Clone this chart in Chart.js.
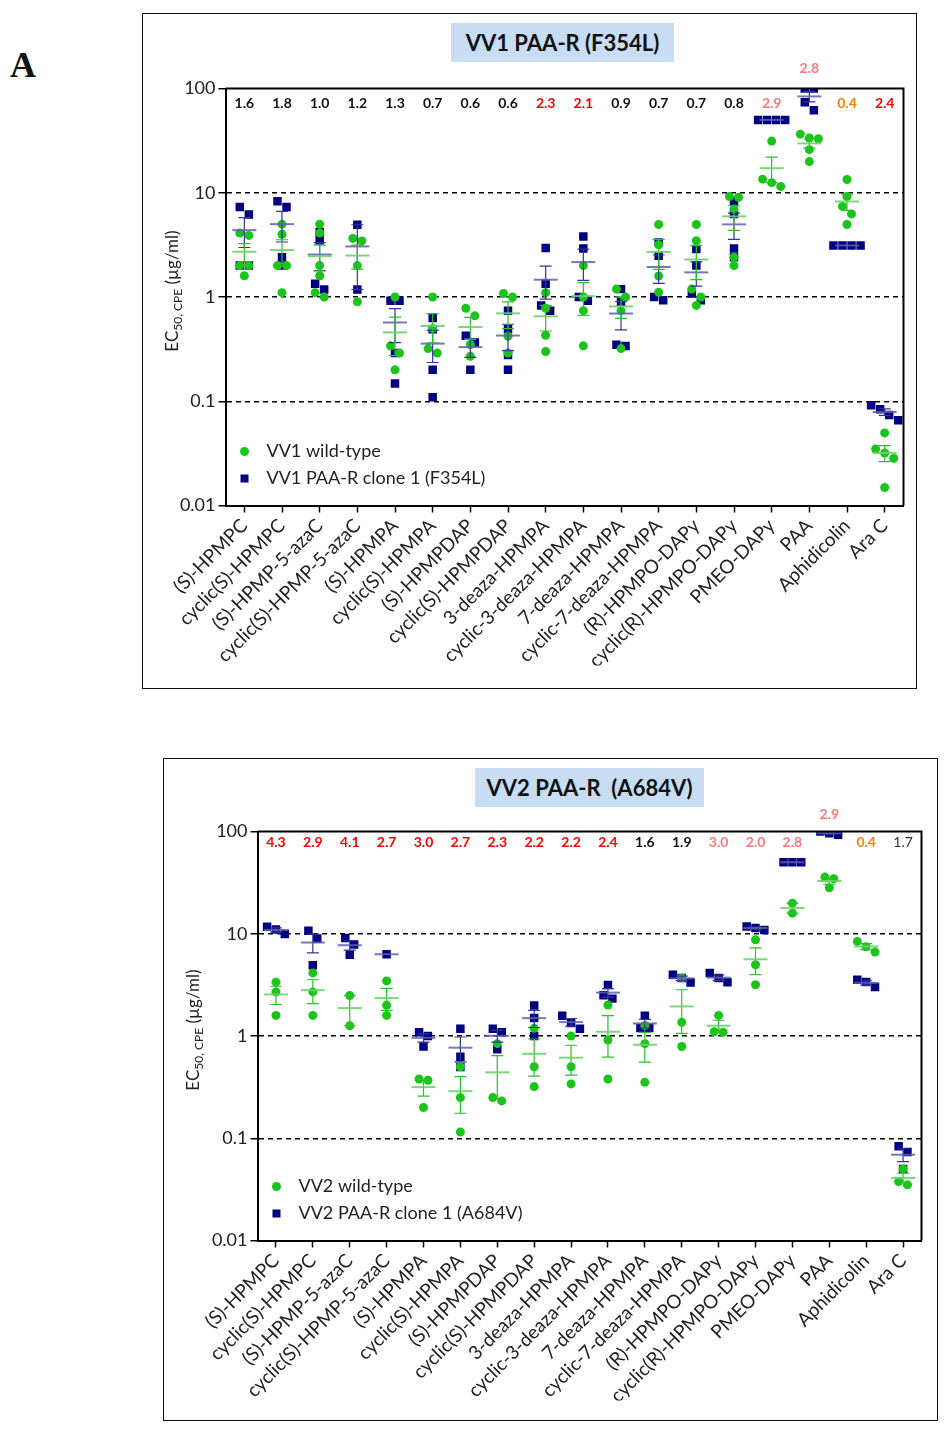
<!DOCTYPE html>
<html>
<head>
<meta charset="utf-8">
<script src="https://cdn.jsdelivr.net/npm/chart.js@4.4.1/dist/chart.umd.min.js"></script>
<style>
    body { margin: 0; background: #fff; width: 950px; height: 1430px; position: relative; font-family: Lato, sans-serif; }
    .letter { position: absolute; left: 10px; top: 44px; font: bold 36px "Liberation Serif", "DejaVu Serif", serif; color: #111; }
    .panel { position: absolute; box-sizing: border-box; border: 1.5px solid #111; }
    .panel canvas { position: absolute; left: 0; top: 0; }
    .title { position: absolute; background: #c8ddf4; font: bold 22px Lato, sans-serif; color: #111;
             text-align: center; white-space: pre; height: 39px; line-height: 39px; }
</style>
</head>
<body>
<div class="letter">A</div>
<div class="panel" style="left:142px; top:13px; width:775px; height:676px;">
    <canvas id="chartVV1" width="772" height="673"></canvas>
    <div class="title" style="left:308px; top:9px; width:223px;">VV1 PAA-R (F354L)</div>
</div>
<div class="panel" style="left:163px; top:758px; width:775px; height:663px;">
    <canvas id="chartVV2" width="772" height="660"></canvas>
    <div class="title" style="left:311px; top:9px; width:229px;">VV2 PAA-R  (A684V)</div>
</div>
<script>
const categories = [
    '(S)-HPMPC', 'cyclic(S)-HPMPC', '(S)-HPMP-5-azaC', 'cyclic(S)-HPMP-5-azaC',
    '(S)-HPMPA', 'cyclic(S)-HPMPA', '(S)-HPMPDAP', 'cyclic(S)-HPMPDAP',
    '3-deaza-HPMPA', 'cyclic-3-deaza-HPMPA', '7-deaza-HPMPA', 'cyclic-7-deaza-HPMPA',
    '(R)-HPMPO-DAPy', 'cyclic(R)-HPMPO-DAPy', 'PMEO-DAPy', 'PAA', 'Aphidicolin', 'Ara C'
];

// EC50 values (µg/ml), one list per compound
const vv1WildType = [
    [4.1, 3.9, 2.0, 2.0, 1.6],
    [5.0, 4.0, 2.0, 2.0, 1.1],
    [5.0, 4.1, 2.0, 1.6, 1.1, 1.0],
    [3.65, 3.45, 2.0, 0.9],
    [1.0, 0.34, 0.29, 0.2],
    [1.0, 0.5, 0.32, 0.29],
    [0.78, 0.66, 0.35, 0.27],
    [1.08, 1.0, 0.42, 0.29],
    [1.1, 0.78, 0.43, 0.3],
    [2.0, 1.0, 0.74, 0.34],
    [1.19, 1.0, 0.74, 0.32],
    [4.96, 3.17, 1.59, 1.11],
    [4.96, 3.46, 1.19, 1.0, 0.83],
    [9.2, 9.06, 7.0, 2.41, 2.0],
    [31.3, 13.5, 12.5, 11.5],
    [36.5, 33.5, 33, 25.9, 19.9],
    [13.4, 9.2, 7.4, 6.27, 4.96],
    [0.0497, 0.0348, 0.0319, 0.0283, 0.0149]
];
const vv1Mutant = [
    [7.3, 6.2, 2.0, 2.0],
    [8.3, 7.3, 2.4, 2.0],
    [4.2, 3.5, 1.34, 1.18],
    [4.93, 1.18],
    [0.92, 0.92, 0.29, 0.148],
    [0.63, 0.49, 0.2, 0.109],
    [0.425, 0.367, 0.2],
    [0.74, 0.49, 0.277, 0.2],
    [2.95, 1.34, 0.83, 0.74],
    [3.81, 2.92, 1.0, 0.92],
    [1.19, 0.9, 0.348, 0.338],
    [3.34, 2.49, 1.0, 0.93],
    [2.88, 2.0, 1.08, 0.93],
    [8.3, 6.27, 2.92, 2.4],
    [50, 50, 50, 50],
    [100, 100, 74, 62],
    [3.12, 3.12, 3.12, 3.12],
    [0.0916, 0.0838, 0.074, 0.0657]
];
const vv1Fold = ['1.6', '1.8', '1.0', '1.2', '1.3', '0.7', '0.6', '0.6', '2.3', '2.1', '0.9', '0.7', '0.7', '0.8', '2.9', '2.8', '0.4', '2.4'];

const vv2WildType = [
    [3.36, 2.7, 1.59],
    [4.14, 2.7, 1.59],
    [2.49, 1.26],
    [3.46, 2.0, 1.59],
    [0.38, 0.369, 0.2],
    [0.5, 0.25, 0.115],
    [0.842, 0.25, 0.232],
    [1.19, 0.5, 0.32],
    [1.0, 0.5, 0.34],
    [2.01, 0.914, 0.38],
    [1.27, 0.842, 0.352],
    [3.69, 1.36, 0.79],
    [1.59, 1.1, 1.09],
    [8.74, 4.98, 3.17],
    [19.9, 15.9],
    [35.8, 34.5, 28.2],
    [8.41, 7.46, 6.62],
    [0.0501, 0.0377, 0.035]
];
const vv2Mutant = [
    [11.7, 11.0, 9.93],
    [10.7, 9.0, 4.92],
    [9.07, 7.87, 6.24],
    [6.3],
    [1.09, 1.0, 0.79],
    [1.18, 0.628, 0.498],
    [1.18, 1.09, 0.741],
    [1.99, 1.5, 1.0],
    [1.58, 1.34, 1.18],
    [3.15, 2.5, 2.32],
    [1.58, 1.2, 1.2],
    [3.97, 3.69, 3.34],
    [4.13, 3.69, 3.35],
    [11.8, 11.4, 10.9],
    [50, 50, 50],
    [100, 96, 93],
    [3.55, 3.37, 3.01],
    [0.0835, 0.0735, 0.0501]
];
const vv2Fold = ['4.3', '2.9', '4.1', '2.7', '3.0', '2.7', '2.3', '2.2', '2.2', '2.4', '1.6', '1.9', '3.0', '2.0', '2.8', '2.9', '0.4', '1.7'];

const yTicks = [0.01, 0.1, 1, 10, 100];
const yTickLabels = ['0.01', '0.1', '1', '10', '100'];

const GREEN = '#1bc41b';
const NAVY = '#000080';
const FOLD_COLORS = { k: '#111111', r: '#ff0000', p: '#ff7878', o: '#ff8000', g: '#333333' };

// spread points with close values sideways (like a GraphPad scatter)
function spread(values) {
    const order = values.map((v, i) => i).sort((a, b) => values[b] - values[a]);
    const offsets = new Array(values.length).fill(0);
    let group = [];
    let prevY = null;
    const flush = function() {
        group.forEach((idx, k) => { offsets[idx] = (k - (group.length - 1) / 2) * 9 / 37.5; });
        group = [];
    };
    order.forEach(idx => {
        const yPx = Math.log10(values[idx]) * 104;
        if (prevY !== null && prevY - yPx >= 8) flush();
        group.push(idx);
        prevY = yPx;
    });
    flush();
    return offsets;
}

function toPoints(groups) {
    const pts = [];
    groups.forEach((vals, i) => {
        const off = spread(vals);
        vals.forEach((v, k) => pts.push({ x: i + off[k], y: v }));
    });
    return pts;
}

function stats(vals) {
    const n = vals.length;
    const mean = vals.reduce((a, b) => a + b, 0) / n;
    const sd = n > 1 ? Math.sqrt(vals.reduce((a, b) => a + (b - mean) * (b - mean), 0) / (n - 1)) : 0;
    return { mean: mean, sem: sd / Math.sqrt(n) };
}

function makeChart(id, wild, mutant, folds, foldStyle, names, opts) {
    const errorBars = {
        id: 'errorBars',
        afterDatasetsDraw(chart) {
            const { ctx, scales: { x, y } } = chart;
            const series = [
                [mutant, '#34349a', 'rgba(95,95,170,0.85)'],
                [wild, '#2cc02c', 'rgba(105,212,105,0.9)']
            ];
            ctx.save();
            series.forEach(([groups, whisker, meanColor]) => {
                groups.forEach((vals, i) => {
                    const s = stats(vals);
                    const px = x.getPixelForValue(i);
                    const py = y.getPixelForValue(s.mean);
                    if (s.sem > 0) {
                        const top = y.getPixelForValue(s.mean + s.sem);
                        const bot = y.getPixelForValue(Math.max(s.mean - s.sem, 0.0001));
                        ctx.strokeStyle = whisker;
                        ctx.lineWidth = 1.2;
                        ctx.beginPath();
                        ctx.moveTo(px, top); ctx.lineTo(px, bot);
                        ctx.moveTo(px - 6, top); ctx.lineTo(px + 6, top);
                        ctx.moveTo(px - 6, bot); ctx.lineTo(px + 6, bot);
                        ctx.stroke();
                    }
                    ctx.strokeStyle = meanColor;
                    ctx.lineWidth = 2;
                    ctx.beginPath();
                    ctx.moveTo(px - 12, py); ctx.lineTo(px + 12, py);
                    ctx.stroke();
                });
            });
            ctx.restore();
        }
    };

    const decorations = {
        id: 'decorations',
        afterDraw(chart) {
            const { ctx, chartArea: area, scales: { x } } = chart;
            ctx.save();
            // frame top / right
            ctx.strokeStyle = '#000';
            ctx.lineWidth = 2;
            ctx.beginPath();
            ctx.moveTo(area.left, area.top); ctx.lineTo(area.right, area.top); ctx.lineTo(area.right, area.bottom);
            ctx.stroke();

            // fold labels
            ctx.textAlign = 'center';
            ctx.textBaseline = 'middle';
            folds.forEach((f, i) => {
                const c = foldStyle[i];
                ctx.font = (c === 'g' ? '' : 'bold ') + '14px Lato, sans-serif';
                ctx.fillStyle = FOLD_COLORS[c];
                const raised = i === opts.raised;
                ctx.fillText(f, x.getPixelForValue(i), raised ? area.top - opts.raiseY : area.top + opts.foldY);
            });

            // legend
            const lx = area.left + 19;
            const y1 = area.bottom - 54;
            const y2 = area.bottom - 27;
            ctx.fillStyle = GREEN;
            ctx.beginPath(); ctx.arc(lx, y1, 4.5, 0, Math.PI * 2); ctx.fill();
            ctx.fillStyle = NAVY;
            ctx.fillRect(lx - 4, y2 - 4, 8, 8);
            ctx.fillStyle = '#222';
            ctx.textAlign = 'left';
            ctx.font = '18px Lato, sans-serif';
            ctx.fillText(names[0], lx + 22, y1);
            ctx.fillText(names[1], lx + 22, y2);

            // y axis title with subscript
            ctx.translate(area.left - opts.titleX, (area.top + area.bottom) / 2 - 6);
            ctx.rotate(-Math.PI / 2);
            ctx.textBaseline = 'alphabetic';
            ctx.font = '17px Lato, sans-serif';
            const w1 = ctx.measureText('EC').width;
            const w3 = ctx.measureText(' (µg/ml)').width;
            ctx.font = '12px Lato, sans-serif';
            const w2 = ctx.measureText('50, CPE').width;
            let start = -(w1 + w2 + w3) / 2;
            ctx.font = '17px Lato, sans-serif';
            ctx.fillText('EC', start, 6);
            ctx.font = '12px Lato, sans-serif';
            ctx.fillText('50, CPE', start + w1, 10);
            ctx.font = '17px Lato, sans-serif';
            ctx.fillText(' (µg/ml)', start + w1 + w2, 6);
            ctx.restore();
        }
    };

    new Chart(document.getElementById(id), {
        type: 'scatter',
        data: {
            datasets: [{
                label: names[0],
                data: toPoints(wild),
                pointStyle: 'circle',
                pointRadius: 4.5,
                pointHoverRadius: 4.5,
                backgroundColor: GREEN,
                borderWidth: 0
            },
            {
                label: names[1],
                data: toPoints(mutant),
                pointStyle: 'rect',
                pointRadius: 6,
                pointHoverRadius: 6,
                backgroundColor: NAVY,
                borderWidth: 0
            }]
        },
        options: {
            responsive: false,
            animation: false,
            layout: { padding: opts.padding },
            scales: {
                x: {
                    type: 'linear',
                    min: -0.5,
                    max: 17.5,
                    afterBuildTicks: s => { s.ticks = categories.map((c, i) => ({ value: i })); },
                    afterFit: s => { s.height = 160; },
                    ticks: {
                        autoSkip: false,
                        minRotation: 45,
                        maxRotation: 45,
                        padding: 2,
                        color: '#222',
                        font: { size: 19 },
                        callback: v => categories[v]
                    },
                    grid: { drawOnChartArea: false, tickLength: 7, tickColor: '#000', tickWidth: 1.5 },
                    border: { color: '#000', width: 2 }
                },
                y: {
                    type: 'logarithmic',
                    min: 0.01,
                    max: 100,
                    afterBuildTicks: s => { s.ticks = yTicks.map(v => ({ value: v })); },
                    afterFit: s => { s.width = 50; },
                    ticks: {
                        padding: 3,
                        color: '#222',
                        font: { size: 18 },
                        callback: v => yTickLabels[yTicks.indexOf(v)]
                    },
                    grid: {
                        color: c => (c.tick && [0.1, 1, 10].includes(c.tick.value)) ? '#000' : 'rgba(0,0,0,0)',
                        lineWidth: 1.5,
                        tickLength: 7,
                        tickColor: '#000',
                        tickWidth: 1.5
                    },
                    border: { color: '#000', width: 2, dash: [5, 4] }
                }
            },
            plugins: {
                legend: { display: false },
                tooltip: { enabled: false }
            }
        },
        plugins: [errorBars, decorations]
    });
}

document.addEventListener("DOMContentLoaded", function() {
    Chart.defaults.font.family = "Lato, 'Open Sans', sans-serif";

    makeChart('chartVV1', vv1WildType, vv1Mutant, vv1Fold, 'kkkkkkkkrrkkkkppor',
        ['VV1 wild-type', 'VV1 PAA-R clone 1 (F354L)'],
        { padding: { left: 32.5, top: 74.5, right: 11.5, bottom: 21.5 }, raised: 15, raiseY: 20, foldY: 15, titleX: 54 });

    makeChart('chartVV2', vv2WildType, vv2Mutant, vv2Fold, 'rrrrrrrrrrkkppppog',
        ['VV2 wild-type', 'VV2 PAA-R clone 1 (A684V)'],
        { padding: { left: 43.5, top: 72.5, right: 14.5, bottom: 18.5 }, raised: 15, raiseY: 17, foldY: 11, titleX: 65 });
});
</script>
</body>
</html>
